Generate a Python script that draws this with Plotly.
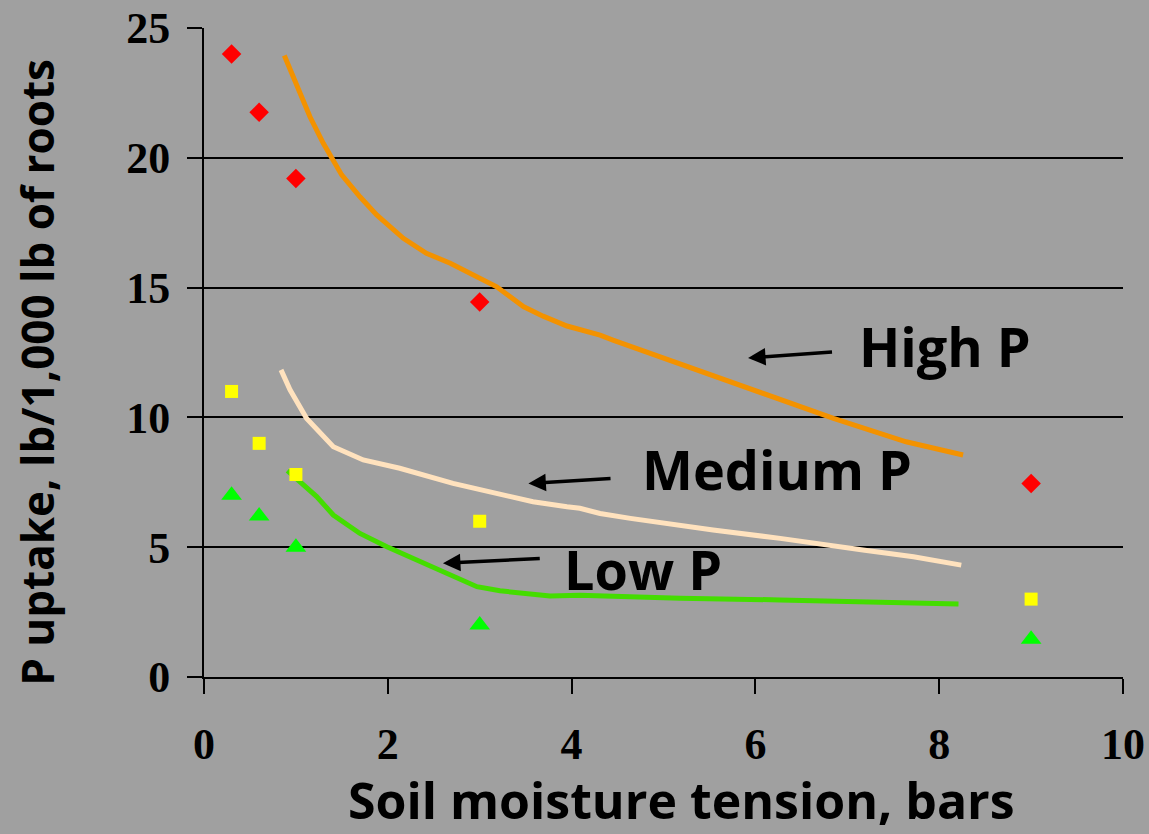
import plotly.graph_objects as go

# Measured points
tension_pts = [0.3, 0.6, 1, 3, 9]
high_pts = [24.0, 21.75, 19.2, 14.45, 7.45]
medium_pts = [11.0, 9.0, 7.8, 6.0, 3.0]
low_pts = [7.0, 6.2, 5.0, 2.0, 1.45]

# Hand-drawn trend curves
high_curve_x = [0.874, 1.01, 1.153, 1.298, 1.39, 1.498, 1.697, 1.879, 2.169, 2.42, 2.68, 2.93, 3.185,
                3.475, 3.69, 3.95, 4.09, 4.31, 4.45, 4.85, 5.36, 6.16, 6.85, 7.64, 8.26]
high_curve_y = [23.94, 22.74, 21.58, 20.56, 20.0, 19.34, 18.5, 17.8, 16.9, 16.32, 15.94, 15.49, 15.03,
                14.27, 13.9, 13.52, 13.4, 13.17, 12.98, 12.47, 11.83, 10.8, 9.96, 9.06, 8.55]

medium_curve_x = [0.838, 0.936, 1.117, 1.407, 1.733, 2.13, 2.71, 3.04, 3.58, 3.95, 4.09, 4.31, 4.64,
                  5.54, 6.27, 7.17, 7.72, 8.24]
medium_curve_y = [11.83, 11.06, 9.96, 8.87, 8.36, 8.04, 7.46, 7.2, 6.75, 6.56, 6.5, 6.3, 6.11,
                  5.66, 5.34, 4.89, 4.63, 4.31]

low_curve_x = [0.907, 1.045, 1.226, 1.407, 1.697, 1.99, 2.35, 2.64, 2.97, 3.22, 3.765, 4.09, 4.31,
               5.18, 6.27, 7.17, 8.21]
low_curve_y = [7.95, 7.52, 6.95, 6.24, 5.53, 5.02, 4.44, 3.99, 3.48, 3.32, 3.12, 3.15, 3.12,
               3.03, 2.97, 2.9, 2.81]

x_ticks = [0, 2, 4, 6, 8, 10]
y_ticks = [0, 5, 10, 15, 20, 25]

BG = "#A0A0A0"
SANS = "Open Sans"
SERIF = "Liberation Serif"

fig = go.Figure()

fig.add_trace(go.Scatter(x=high_curve_x, y=high_curve_y, mode="lines",
                         line=dict(color="#F39200", width=5), hoverinfo="skip"))
fig.add_trace(go.Scatter(x=medium_curve_x, y=medium_curve_y, mode="lines",
                         line=dict(color="#FFE2BE", width=5), hoverinfo="skip"))
fig.add_trace(go.Scatter(x=low_curve_x, y=low_curve_y, mode="lines",
                         line=dict(color="#44DD00", width=5), hoverinfo="skip"))

fig.add_trace(go.Scatter(x=tension_pts, y=high_pts, mode="markers",
                         marker=dict(symbol="diamond", size=15, color="#FF0000")))
fig.add_trace(go.Scatter(x=tension_pts, y=medium_pts, mode="markers",
                         marker=dict(symbol="square", size=13, color="#FFFF00")))
fig.add_trace(go.Scatter(x=tension_pts, y=low_pts, mode="markers",
                         marker=dict(symbol="triangle-up", size=18, color="#00FF00")))

labels = [("High P", 8.06, 12.75), ("Medium P", 6.23, 8.0), ("Low P", 4.78, 4.15)]
for txt, lx, ly in labels:
    fig.add_annotation(x=lx, y=ly, xref="x", yref="y", text=txt, showarrow=False,
                       font=dict(family=SANS, size=54, color="black", weight="bold"),
                       xanchor="center", yanchor="middle")

arrows = [((6.85, 12.52), (5.92, 12.29)),
          ((4.44, 7.65), (3.53, 7.45)),
          ((3.67, 4.57), (2.60, 4.38))]
for (tx, ty), (hx, hy) in arrows:
    fig.add_annotation(x=hx, y=hy, ax=tx, ay=ty, xref="x", yref="y", axref="x", ayref="y",
                       text="", showarrow=True, arrowhead=2, arrowsize=1, arrowwidth=3.5,
                       arrowcolor="black")

# Axis titles as annotations
fig.add_annotation(x=-0.182, y=0.47, xref="paper", yref="paper",
                   text="P uptake, lb/1,000 lb of roots", showarrow=False, textangle=-90,
                   font=dict(family=SANS, size=44, color="black", weight="bold"),
                   xanchor="center", yanchor="middle")
fig.add_annotation(x=0.52, y=-0.19, xref="paper", yref="paper",
                   text="Soil moisture tension, bars", showarrow=False,
                   font=dict(family=SANS, size=50, color="black", weight="bold"),
                   xanchor="center", yanchor="middle")

fig.update_layout(
    width=1149, height=834,
    margin=dict(l=204, r=26, t=28, b=157, autoexpand=False),
    paper_bgcolor=BG, plot_bgcolor=BG,
    showlegend=False,
    xaxis=dict(range=[0, 10], tickvals=x_ticks, ticktext=[str(v) for v in x_ticks],
               showgrid=False, zeroline=False, showline=True, linecolor="black", linewidth=2,
               ticks="outside", ticklen=15, tickwidth=2, tickcolor="black",
               ticklabelstandoff=12, automargin=False,
               tickfont=dict(family=SERIF, size=44, color="black", weight="bold")),
    yaxis=dict(range=[0, 25], tickvals=y_ticks, ticktext=[str(v) for v in y_ticks],
               showgrid=True, gridcolor="black", gridwidth=2, zeroline=False,
               showline=True, linecolor="black", linewidth=2,
               ticks="outside", ticklen=15, tickwidth=2, tickcolor="black",
               ticklabelstandoff=8, automargin=False,
               tickfont=dict(family=SERIF, size=44, color="black", weight="bold")),
)

fig.write_html("out.html")
